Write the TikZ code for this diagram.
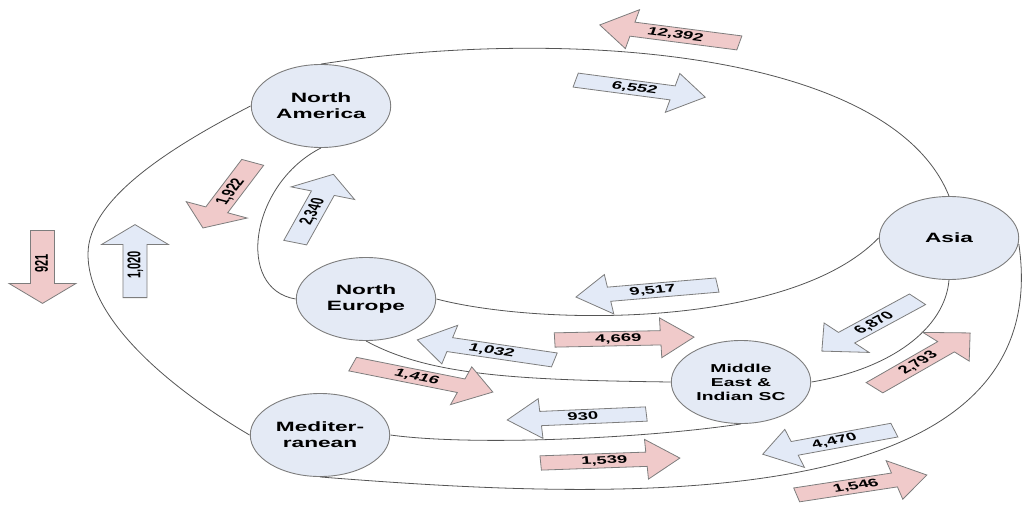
\documentclass[tikz,border=0pt]{standalone}
\usepackage{fontspec}
\setmainfont{Liberation Sans}
\usetikzlibrary{shapes.arrows}
\definecolor{portfill}{RGB}{228,234,245}
\definecolor{pinkfill}{RGB}{240,202,202}
\definecolor{bluefill}{RGB}{227,234,247}
\definecolor{rim}{RGB}{125,125,125}
\definecolor{routeline}{RGB}{85,85,85}

\begin{document}
\begin{tikzpicture}[x=1pt, y=1pt,
    port/.style={circle, draw=rim, line width=0.9pt, fill=portfill, minimum size=83pt, inner sep=0pt,
      align=center, font=\fontsize{13.5}{16}\selectfont\bfseries, xscale=1.68},
    flow/.style={single arrow, draw=rim, line width=0.8pt, single arrow tip angle=90,
      single arrow head extend=12.75pt, text height=8pt, text depth=1.5pt, inner ysep=2pt, inner xsep=2pt,
      font=\fontsize{11}{13}\selectfont\bfseries, anchor=tail, xscale=1.68},
    redflow/.style={flow, fill=pinkfill},
    blueflow/.style={flow, fill=bluefill},
    leftward/.style={shape border rotate=180},
    route/.style={draw=routeline, line width=0.8pt}]

    \useasboundingbox (0,0) rectangle (1024,504);

    % regions
    \node[port] (namerica) at (321,398) {North\\America};
    \node[port] (asia) at (949,266) {Asia};
    \node[port] (neurope) at (366,205) {North\\Europe};
    \node[port] (med) at (320,69) {Mediter-\\ranean};
    \node[port, font=\fontsize{11.5}{14}\selectfont\bfseries] (meast) at (741,122) {Middle\\East \&\\Indian SC};

    % routes
    \draw[route] (namerica.north) .. controls (560,477) and (890,455) .. (asia.north);
    \draw[route] (namerica.west) .. controls (171,357) and (88,305) .. (88,250)
                                 .. controls (88,180) and (180,110) .. (med.west);
    \draw[route] (namerica.south) .. controls (250,320) and (235,215) .. (neurope.west);
    \draw[route] (neurope.east) .. controls (540,178) and (790,175) .. (asia.west);
    \draw[route] (neurope.south) .. controls (430,128) and (520,124) .. (meast.west);
    \draw[route] (meast.east) .. controls (890,135) and (945,175) .. (asia.south);
    \draw[route] (med.east) .. controls (470,58) and (640,65) .. (meast.south);
    \draw[route] (med.south) .. controls (600,5) and (1060,-20) .. (asia.-8);

    % flows
    \node[redflow, leftward, rotate=-12.2, minimum height=85pt] (f12392) at (740,461) {12,392};
    \node[blueflow, rotate=-12.5, minimum height=79pt] (f6552) at (575,424) {6,552};
    \node[redflow, leftward, rotate=65.7, minimum height=72pt] (f1922) at (253,342) {1,922};
    \node[blueflow, rotate=71.6, minimum height=72pt] (f2340) at (295,261) {2,340};
    \node[blueflow, rotate=90, minimum height=73pt] (f1020) at (135,206) {1,020};
    \node[redflow, leftward, rotate=90, minimum height=73pt] (f921) at (42.5,274) {921};
    \node[blueflow, leftward, rotate=8.1, minimum height=85pt] (f9517) at (718,219) {9,517};
    \node[redflow, rotate=2, minimum height=83pt] (f4669) at (554,164) {4,669};
    \node[blueflow, leftward, rotate=-13.8, minimum height=84pt] (f1032) at (555,144) {1,032};
    \node[redflow, rotate=-18.5, minimum height=88pt] (f1416) at (352,140) {1,416};
    \node[blueflow, leftward, rotate=42.3, minimum height=77pt] (f6870) at (918,205) {6,870};
    \node[redflow, rotate=43.9, minimum height=79pt] (f2793) at (874,116) {2,793};
    \node[blueflow, leftward, rotate=4.1, minimum height=83pt] (f930) at (647,90) {930};
    \node[redflow, rotate=3.4, minimum height=83pt] (f1539) at (540,41) {1,539};
    \node[blueflow, leftward, rotate=17.1, minimum height=82pt] (f4470) at (895,74) {4,470};
    \node[redflow, rotate=14.4, minimum height=80pt] (f1546) at (796,9) {1,546};
\end{tikzpicture}
\end{document}
